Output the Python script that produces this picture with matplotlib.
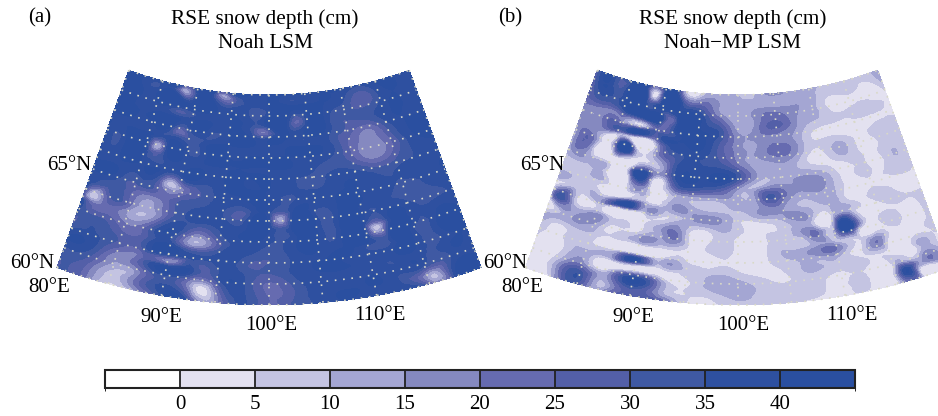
"""
RSE of snow depth over central Siberia, Noah LSM vs Noah-MP LSM.
Values read by eye from the published figure, on a 2.5 x 0.5 degree grid
plus a few small spots the grid is too coarse to catch.
"""
import numpy as np
import matplotlib
matplotlib.use("Agg")
import matplotlib.pyplot as plt
import matplotlib.tri as mtri
from matplotlib.colors import BoundaryNorm, ListedColormap

plt.rcParams["font.family"] = ["Liberation Serif", "DejaVu Serif"]

lons = [80, 82.5, 85, 87.5, 90, 92.5, 95, 97.5, 100, 102.5, 105, 107.5, 110, 112.5, 115, 117.5, 120]
lats = [70, 69.5, 69, 68.5, 68, 67.5, 67, 66.5, 66, 65.5, 65, 64.5, 64, 63.5, 63, 62.5, 62, 61.5, 61, 60.5, 60]
levels = [-5, 0, 5, 10, 15, 20, 25, 30, 35, 40, 45]
tick_values = [0, 5, 10, 15, 20, 25, 30, 35, 40]
colors = ["#ffffff", "#e3e1f0", "#c4c4e2", "#a4a6d3", "#8589c0",
          "#666bb0", "#535fa8", "#3f59a3", "#2e50a0", "#2a4fa0"]

# rows run north to south, columns west to east
noah = [
    [40, 40, 40, 40, 40, 38, 40, 40, 40, 40, 40, 40, 40, 35, 40, 40, 40],
    [40, 40, 40, 40, 38, 40, 28, 36, 40, 40, 40, 40, 36, 26, 36, 40, 40],
    [40, 40, 40, 40, 40, 40, 40, 34, 40, 40, 40, 38, 32, 28, 36, 40, 40],
    [40, 40, 40, 40, 38, 40, 40, 36, 40, 36, 40, 38, 30, 32, 38, 40, 40],
    [40, 40, 40, 40, 36, 36, 40, 40, 32, 40, 40, 36, 28, 22, 34, 40, 40],
    [40, 40, 40, 36, 32, 38, 40, 40, 38, 40, 40, 36, 24, 18, 28, 40, 40],
    [40, 40, 40, 34, 36, 40, 40, 40, 40, 40, 40, 36, 24, 16, 24, 38, 40],
    [40, 40, 40, 36, 38, 40, 40, 40, 40, 40, 36, 34, 28, 18, 26, 36, 40],
    [40, 40, 40, 38, 40, 40, 40, 40, 40, 36, 34, 36, 36, 30, 32, 36, 40],
    [40, 40, 36, 30, 26, 34, 40, 40, 40, 36, 34, 38, 40, 36, 36, 38, 40],
    [40, 38, 30, 26, 18, 30, 38, 40, 40, 34, 38, 40, 40, 38, 34, 36, 40],
    [40, 32, 24, 18, 30, 34, 36, 32, 38, 38, 36, 40, 40, 36, 32, 34, 38],
    [30, 26, 22, 14, 30, 38, 36, 34, 36, 40, 38, 40, 40, 38, 36, 32, 36],
    [36, 22, 14, 14, 36, 30, 36, 40, 40, 40, 40, 40, 38, 36, 38, 38, 38],
    [36, 28, 20, 28, 38, 14, 30, 40, 36, 38, 40, 40, 38, 38, 38, 40, 40],
    [28, 34, 26, 30, 38, 18, 32, 38, 32, 38, 40, 40, 38, 38, 36, 40, 40],
    [34, 36, 28, 30, 38, 36, 38, 32, 30, 36, 40, 40, 38, 40, 38, 36, 40],
    [40, 36, 18, 26, 28, 36, 34, 34, 30, 36, 40, 40, 38, 36, 36, 38, 38],
    [32, 30, 14, 20, 36, 22, 30, 36, 24, 32, 38, 38, 40, 36, 36, 34, 38],
    [30, 24, 8, 22, 36, 15, 18, 36, 24, 30, 38, 40, 40, 34, 16, 36, 40],
    [30, 22, 4, 14, 36, 30, 15, 36, 24, 32, 36, 40, 36, 38, 24, 36, 36],
]
noah_spot_lon = [93.4, 89.0, 87.0, 88.7, 87.9, 99.5, 104.0, 101.1, 111.2, 80.6, 90.0, 115.9, 93.2]
noah_spot_lat = [69.8, 65.4, 67.0, 67.9, 69.65, 68.25, 68.75, 64.05, 63.15, 63.9, 61.55, 60.4, 60.5]
noah_spot_val = [15, 8, 18, 22, 22, 20, 25, 12, 6, 10, 22, 10, 3]

noah_mp = [
    [27, 37, 40, 40, 40, 15, 5, 12, 10, 10, 17, 12, 12, 7, 5, 7, 12],
    [25, 37, 42, 42, 40, 32, 22, 15, 12, 12, 12, 14, 12, 5, 7, 3, 11],
    [25, 35, 40, 40, 40, 42, 37, 18, 12, 17, 22, 16, 12, 3, 3, 3, 5],
    [22, 22, 30, 42, 42, 42, 42, 30, 12, 17, 27, 16, 10, 6, 7, 7, 4],
    [17, 18, 20, 7, 25, 40, 42, 35, 17, 17, 18, 13, 4, 3, 3, 4, 4],
    [17, 17, 17, 7, 20, 40, 42, 30, 17, 15, 22, 14, 5, 6, 3, 7, 7],
    [12, 17, 12, 7, 10, 33, 37, 30, 18, 15, 20, 12, 4, 12, 3, 7, 7],
    [12, 12, 5, 7, 7, 30, 37, 35, 25, 12, 13, 8, 3, 8, 4, 7, 7],
    [12, 12, 3, 3, 20, 32, 40, 42, 32, 12, 13, 14, 10, 3, 5, 7, 7],
    [7, 7, 3, 3, 10, 22, 35, 30, 15, 14, 18, 17, 15, 3, 6, 7, 7],
    [9, 7, 7, 3, 7, 7, 12, 12, 12, 20, 22, 12, 14, 3, 4, 4, 4],
    [7, 7, 3, 7, 7, 12, 12, 7, 10, 16, 15, 9, 12, 3, 7, 3, 3],
    [9, 7, 10, 5, 7, 5, 14, 17, 7, 7, 12, 15, 6, 7, 3, 6, 5],
    [5, 12, 14, 3, 3, 15, 7, 8, 7, 4, 7, 14, 8, 18, 3, 3, 7],
    [3, 14, 15, 3, 8, 16, 4, 6, 3, 3, 7, 16, 10, 10, 4, 3, 7],
    [12, 6, 9, 3, 6, 6, 3, 7, 3, 3, 10, 13, 14, 5, 8, 3, 7],
    [7, 5, 6, 3, 5, 3, 4, 3, 3, 3, 9, 12, 13, 5, 6, 3, 7],
    [3, 3, 13, 5, 10, 4, 8, 8, 6, 3, 6, 11, 8, 6, 3, 4, 3],
    [3, 6, 17, 4, 26, 10, 3, 12, 12, 7, 5, 7, 3, 3, 6, 8, 7],
    [3, 12, 33, 12, 36, 15, 5, 8, 12, 8, 9, 7, 3, 5, 9, 7, 5],
    [3, 9, 30, 15, 28, 25, 6, 3, 8, 7, 6, 3, 3, 3, 5, 3, 3],
]
mp_spot_lon = [87.6, 85.6, 86.9, 88.2, 87.6, 80.5, 89.9, 116.3, 111.5, 110.4, 112.6, 107.9, 104.9,
               102.7, 113.9, 93.3, 118.0, 104.9, 116.3, 88.0, 91.1]
mp_spot_lat = [67.8, 66.8, 67.0, 65.7, 64.3, 63.8, 61.75, 60.5, 63.05, 63.46, 63.2, 63.1, 65.1,
               65.1, 62.2, 63.1, 60.8, 68.7, 65.7, 69.55, 68.6]
mp_spot_val = [42, 40, 38, 42, 42, 30, 42, 40, 40, 26, 20, 22, 24, 24, 20, 22, 17, 25, 3, 15, 22]

APEX_Y = -315
R_TOP = 410
DEG_LAT = 21
cmap = ListedColormap(colors)
norm = BoundaryNorm(levels, cmap.N)


def project(lon, lat, center_x):
    """Simple conic projection to figure pixels, 1 deg lon = 1 deg of cone angle."""
    theta = np.radians(np.asarray(lon, dtype=float) - 100)
    r = R_TOP + (70 - np.asarray(lat, dtype=float)) * DEG_LAT
    return center_x + r * np.sin(theta), APEX_Y + r * np.cos(theta)


def draw_panel(ax, values, spot_lon, spot_lat, spot_val, center_x):
    grid_lon, grid_lat = np.meshgrid(lons, lats)
    all_lon = np.r_[grid_lon.ravel(), spot_lon]
    all_lat = np.r_[grid_lat.ravel(), spot_lat]
    all_val = np.r_[np.array(values, dtype=float).ravel(), spot_val]

    # triangulate in stretched lon/lat: real shapes, but the top edge stays open
    triangles = mtri.Triangulation(all_lon * 9, all_lat * 21).triangles
    x, y = project(all_lon, all_lat, center_x)
    tri = mtri.Triangulation(x, y, triangles)
    fine_tri, fine_val = mtri.UniformTriRefiner(tri).refine_field(all_val, subdiv=3)
    fine_val = np.clip(fine_val, 0.5, 44.5)
    ax.tricontourf(fine_tri, fine_val, levels=levels, cmap=cmap, norm=norm)

    # graticule, 5 deg meridians and 1 deg parallels
    line_style = dict(color="#d9d9c8", lw=1.2, ls=(0, (1, 4)))
    for lon in np.arange(80, 121, 5):
        ax.plot(*project([lon] * 2, [60, 70], center_x), **line_style)
    for lat in np.arange(60, 71, 1):
        arc = np.linspace(80, 120, 121)
        ax.plot(*project(arc, np.full(arc.size, lat), center_x), **line_style)


fig = plt.figure(figsize=(9.38, 4.16), dpi=100)
ax = fig.add_axes([0, 0, 1, 1])
ax.set_xlim(0, 938)
ax.set_ylim(416, 0)
ax.axis("off")

draw_panel(ax, noah, noah_spot_lon, noah_spot_lat, noah_spot_val, 269)
draw_panel(ax, noah_mp, mp_spot_lon, mp_spot_lat, mp_spot_val, 737.5)

# panel letters and titles
ax.text(40, 18, "(a)", fontsize=15, ha="center", va="center")
ax.text(510, 18, "(b)", fontsize=15, ha="center", va="center")
ax.text(265, 19, "RSE snow depth (cm)", fontsize=15.3, ha="center", va="center")
ax.text(265, 43, "Noah LSM", fontsize=15.3, ha="center", va="center")
ax.text(733, 19, "RSE snow depth (cm)", fontsize=15.3, ha="center", va="center")
ax.text(733, 43, "Noah\u2212MP LSM", fontsize=15.3, ha="center", va="center")

# map labels, placed off the sector edges
for dx in [0, 473]:
    ax.text(91 + dx, 166, "65°N", fontsize=15, ha="right", va="center")
    ax.text(54 + dx, 263, "60°N", fontsize=15, ha="right", va="center")
    ax.text(49 + dx, 288, "80°E", fontsize=15, ha="center", va="center")
    ax.text(161 + dx - (1 if dx else 0), 317, "90°E", fontsize=15, ha="center", va="center")
    ax.text(271 + dx - (1 if dx else 0), 325, "100°E", fontsize=15, ha="center", va="center")
    ax.text(380 + dx - (1 if dx else 0), 315, "110°E", fontsize=15, ha="center", va="center")

# colorbar
cax = fig.add_axes([105 / 938, 1 - 388 / 416, 750 / 938, 18 / 416])
sm = plt.cm.ScalarMappable(norm=norm, cmap=cmap)
cbar = fig.colorbar(sm, cax=cax, orientation="horizontal", ticks=tick_values,
                    spacing="proportional", drawedges=True)
cbar.dividers.set_color("#222222")
cbar.dividers.set_linewidth(1.3)
cbar.outline.set_edgecolor("#222222")
cbar.outline.set_linewidth(1.5)
cbar.ax.tick_params(length=0, labelsize=15, pad=5)

fig.savefig("out.png", dpi=100)
